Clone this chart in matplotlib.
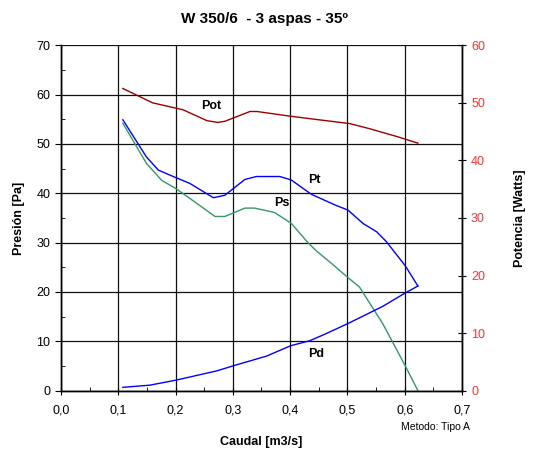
import matplotlib
matplotlib.use("Agg")
import matplotlib.pyplot as plt
from matplotlib.ticker import MultipleLocator, FuncFormatter

plt.rcParams['font.family'] = ['Liberation Sans', 'DejaVu Sans']

# Pt (presion total), Pa
pt_x = [0.108, 0.149, 0.170, 0.200, 0.225, 0.266, 0.286, 0.321, 0.341, 0.382,
        0.402, 0.437, 0.481, 0.501, 0.527, 0.551, 0.568, 0.601, 0.623]
pt_y = [54.9, 47.4, 44.7, 43.2, 42.0, 39.1, 39.6, 42.8, 43.4, 43.4,
        42.7, 39.8, 37.5, 36.6, 33.9, 32.2, 30.2, 25.3, 21.2]

# Ps (presion estatica), Pa
ps_x = [0.108, 0.149, 0.176, 0.200, 0.216, 0.269, 0.286, 0.321, 0.338, 0.373,
        0.402, 0.431, 0.446, 0.470, 0.500, 0.521, 0.562, 0.601, 0.623]
ps_y = [54.2, 46.1, 42.6, 41.0, 39.7, 35.3, 35.3, 37.0, 37.0, 36.1,
        33.9, 30.0, 28.3, 26.0, 23.0, 21.0, 13.5, 5.0, 0.0]

# Pd (presion dinamica), Pa
pd_x = [0.108, 0.155, 0.200, 0.272, 0.300, 0.359, 0.401, 0.434, 0.458, 0.501,
        0.562, 0.601, 0.623]
pd_y = [0.66, 1.1, 2.1, 4.0, 5.0, 7.0, 9.1, 10.1, 11.3, 13.6,
        17.1, 19.8, 21.2]

# Pot (potencia), Watts
pot_x = [0.108, 0.160, 0.213, 0.255, 0.274, 0.286, 0.330, 0.342, 0.399, 0.447,
         0.504, 0.539, 0.588, 0.623]
pot_y = [52.5, 50.0, 48.8, 46.9, 46.6, 46.8, 48.5, 48.5, 47.7, 47.1,
         46.4, 45.5, 44.1, 43.0]

fig = plt.figure(figsize=(5.33, 4.5), dpi=100)
ax = fig.add_axes([0.1144, 0.132, 0.7524, 0.7673])
ax2 = ax.twinx()

ax.plot(pt_x, pt_y, color='#0000FF', lw=1.0)
ax.plot(ps_x, ps_y, color='#339966', lw=1.0)
ax.plot(pd_x, pd_y, color='#0000FF', lw=1.0)
ax2.plot(pot_x, pot_y, color='#990000', lw=1.0)

ax.set_xlim(0, 0.7)
ax.set_ylim(0, 70)
ax2.set_ylim(0, 60)

ax.xaxis.set_major_locator(MultipleLocator(0.1))
ax.xaxis.set_minor_locator(MultipleLocator(0.05))
ax.yaxis.set_major_locator(MultipleLocator(10))
ax.yaxis.set_minor_locator(MultipleLocator(5))
ax2.yaxis.set_major_locator(MultipleLocator(10))
ax.xaxis.set_major_formatter(FuncFormatter(lambda v, p: f"{v:.1f}".replace('.', ',')))

ax.grid(True, which='major', color='#111111', lw=0.9)
ax.set_axisbelow(True)

ax.tick_params(axis='x', which='major', direction='inout', length=6, labelsize=9, pad=7)
ax.tick_params(axis='x', which='minor', direction='in', length=3)
ax.tick_params(axis='y', which='major', direction='out', length=4, labelsize=9)
ax.tick_params(axis='y', which='minor', direction='in', length=3)
ax2.tick_params(axis='y', which='major', direction='inout', length=6, labelsize=9,
                labelcolor='#FF3333')

for a in (ax, ax2):
    for s in a.spines.values():
        s.set_linewidth(1.0)
    a.spines['top'].set_visible(False)

ax.text(0.262, 57.7, 'Pot', fontsize=9, fontweight='bold', ha='center', va='center')
ax.text(0.443, 42.7, 'Pt', fontsize=9, fontweight='bold', ha='center', va='center')
ax.text(0.386, 38.1, 'Ps', fontsize=9, fontweight='bold', ha='center', va='center')
ax.text(0.446, 7.4, 'Pd', fontsize=9, fontweight='bold', ha='center', va='center')

fig.text(0.497, 0.958, 'W 350/6  - 3 aspas - 35º', fontsize=11, fontweight='bold',
         ha='center', va='center')
ax.set_xlabel('Caudal [m3/s]', fontsize=9, fontweight='bold', labelpad=14)
ax.set_ylabel('Presión [Pa]', fontsize=9, fontweight='bold', labelpad=8)
ax2.set_ylabel('Potencia [Watts]', fontsize=9, fontweight='bold', labelpad=21)
fig.text(0.882, 0.052, 'Metodo: Tipo A', fontsize=7.5, ha='right', va='center')

fig.savefig('out.png', dpi=100)
